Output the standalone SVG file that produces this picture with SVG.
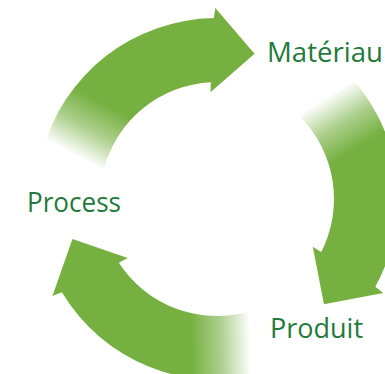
<svg xmlns="http://www.w3.org/2000/svg" xmlns:xlink="http://www.w3.org/1999/xlink" width="385" height="374" viewBox="0 0 385 374">
  <style>
    .lbl { font-family: "Open Sans", "Noto Sans", "Liberation Sans", sans-serif; font-size: 28px; fill: #1f7a3c; }
    .arrow { fill: url(#fade); stroke: none; }
  </style>
  <defs>
    <linearGradient id="fade" gradientUnits="userSpaceOnUse" x1="74.51" y1="155.44" x2="102.86" y2="103.22">
      <stop offset="0" stop-color="#76b041" stop-opacity="0"/>
      <stop offset="0.5" stop-color="#76b041" stop-opacity="0.6"/>
      <stop offset="1" stop-color="#76b041" stop-opacity="1"/>
    </linearGradient>
    <path id="arrow" class="arrow" d="M42.17,152.15 A181,181 0 0 1 213.84,18.03 L215.33,8.01 L254.56,53.78 L210.47,92.20 L210.88,82.16 A117,117 0 0 0 103.99,168.72 Z"/>
  </defs>
  <rect width="385" height="374" fill="#ffffff"/>
  <g id="connectors">
    <use id="arrow-process-materiau" xlink:href="#arrow" href="#arrow"/>
    <use id="arrow-materiau-produit" xlink:href="#arrow" href="#arrow" transform="rotate(120 217 199)"/>
    <use id="arrow-produit-process" xlink:href="#arrow" href="#arrow" transform="rotate(240 217 199)"/>
  </g>
  <g id="node-materiau">
    <text class="lbl" x="267" y="61.5" textLength="116" lengthAdjust="spacingAndGlyphs">Matériau</text>
  </g>
  <g id="node-produit">
    <text class="lbl" x="270" y="337.5" textLength="93" lengthAdjust="spacingAndGlyphs">Produit</text>
  </g>
  <g id="node-process">
    <text class="lbl" x="27" y="211.5" textLength="94" lengthAdjust="spacingAndGlyphs">Process</text>
  </g>
</svg>
